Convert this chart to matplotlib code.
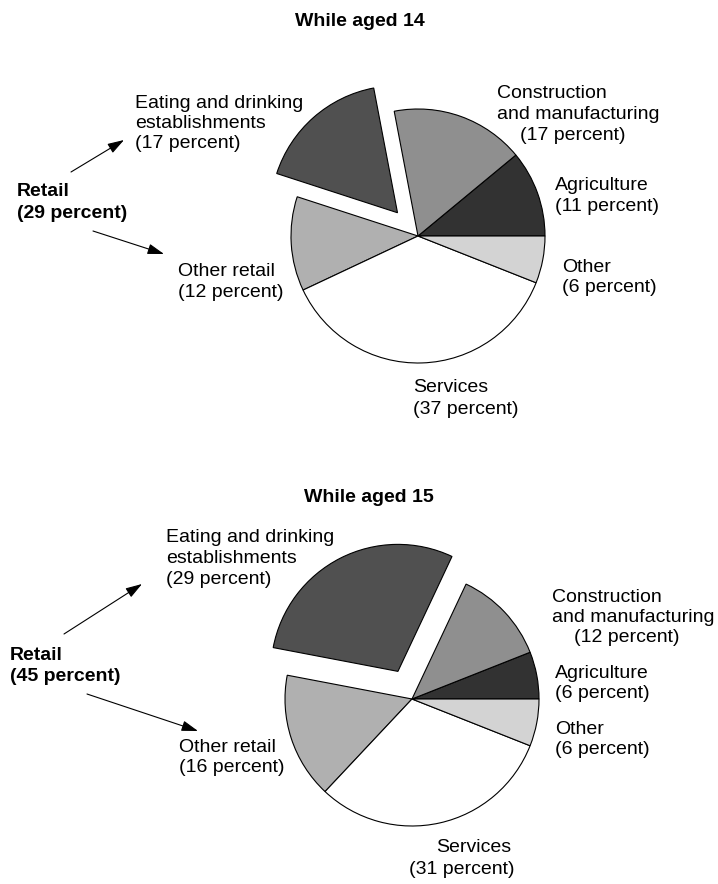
import matplotlib.pyplot as plt

plt.rcParams['font.family'] = ['Liberation Sans', 'DejaVu Sans']

W, H = 718, 884

# Job sectors, listed counterclockwise from 3 o'clock
sectors = ['Agriculture', 'Construction', 'Eating', 'Other retail', 'Services', 'Other']
ages = [14, 15]
shares_14 = [11, 17, 17, 12, 37, 6]
shares_15 = [6, 12, 29, 16, 31, 6]
retail_14 = 29
retail_15 = 45

colors = ['#323232', '#8f8f8f', '#505050', '#b0b0b0', '#ffffff', '#d3d3d3']
R = 127
# pie() takes the explode offset in data units, here pixels
explode = [0, 0, 31, 0, 0, 0]

fig = plt.figure(figsize=(W / 100, H / 100), dpi=100)
ax = fig.add_axes([0, 0, 1, 1])

FS = 14
STEP = 20.5


def put_lines(lines, x, y, bold=False, step=STEP):
    # lines: list of (text, x offset)
    for i, (s, dx) in enumerate(lines):
        ax.text(x + dx, y + i * step, s, fontsize=FS, ha='left', va='center',
                fontweight='bold' if bold else 'normal')


def pct(v):
    return f'({v} percent)'


def draw_panel(shares, retail, age, center, title_xy, pos, arrows):
    # y axis is inverted, so clockwise in data reads counterclockwise on screen
    ax.pie(shares, colors=colors, explode=explode, center=center, radius=R,
           startangle=0, counterclock=False,
           wedgeprops=dict(edgecolor='black', linewidth=0.8))
    ax.text(title_xy[0], title_xy[1], f'While aged {age}', fontsize=FS,
            fontweight='bold', ha='center', va='center')
    agr, con, eat, oret, serv, oth = shares
    put_lines([('Eating and drinking', 0), ('establishments', 0), (pct(eat), 0)], *pos['eat'])
    put_lines([('Construction', 0), ('and manufacturing', 0), (pct(con), pos['con_dx'])], *pos['con'])
    put_lines([('Agriculture', 0), (pct(agr), 0)], *pos['agr'])
    put_lines([('Other', 0), (pct(oth), 0)], *pos['oth'])
    put_lines([('Other retail', 0), (pct(oret), 0)], *pos['oret'])
    put_lines([('Services', pos['serv_dx']), (pct(serv), 0)], *pos['serv'], step=22)
    put_lines([('Retail', 0), (pct(retail), 0)], *pos['retail'], bold=True, step=21.5)
    for tail, tip in arrows:
        ax.annotate('', xy=tip, xytext=tail,
                    arrowprops=dict(arrowstyle='-|>,head_length=1.0,head_width=0.32',
                                    mutation_scale=10, color='black', lw=0.8,
                                    shrinkA=0, shrinkB=0))


draw_panel(shares_14, retail_14, ages[0], center=(418, 236), title_xy=(360, 21),
           pos={'eat': (135, 103), 'con': (497, 94), 'con_dx': 23,
                'agr': (555, 186), 'oth': (562, 267), 'oret': (178, 272),
                'serv': (413, 388), 'serv_dx': 0, 'retail': (17, 192)},
           arrows=[((71, 172), (124, 140)), ((93, 231), (164, 254))])

draw_panel(shares_15, retail_15, ages[1], center=(412, 699), title_xy=(369, 497),
           pos={'eat': (166, 538), 'con': (552, 597), 'con_dx': 22,
                'agr': (555, 673), 'oth': (555, 729), 'oret': (179, 747),
                'serv': (409, 848), 'serv_dx': 27, 'retail': (10, 655)},
           arrows=[((64, 634), (142, 584)), ((87, 694), (198, 731))])

ax.set_aspect('equal')
ax.set_xlim(0, W)
ax.set_ylim(H, 0)
ax.axis('off')

fig.savefig('out.png', dpi=100, facecolor='white')
